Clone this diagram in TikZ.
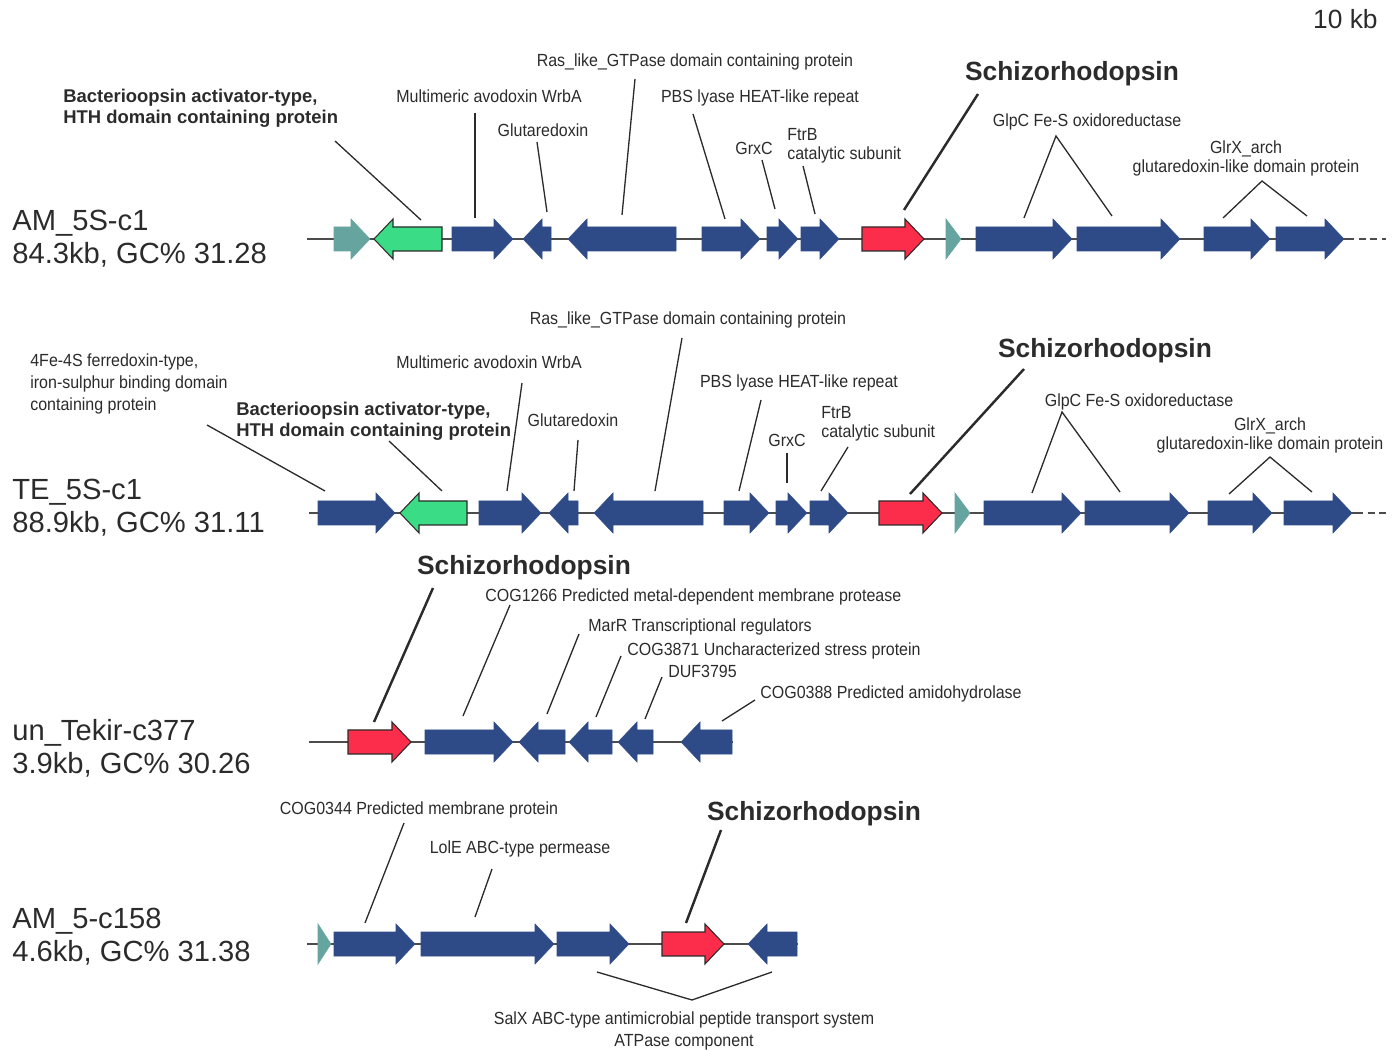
\documentclass[tikz,border=0pt]{standalone}
\usepackage{fontspec}
\setmainfont{Liberation Sans}
\newfontfamily\narrowfont[FakeStretch=0.91]{Liberation Sans}

\definecolor{geneblue}{HTML}{2F4B87}
\definecolor{opsinred}{HTML}{FB2D4B}
\definecolor{hthgreen}{HTML}{3BDC86}
\definecolor{miscteal}{HTML}{66A4A0}
\definecolor{inkgrey}{HTML}{2B2B2B}

\tikzset{
  cds/.style={fill=geneblue, draw=geneblue, line width=0.3pt},
  opsin/.style={fill=opsinred, draw=inkgrey, line width=0.6pt},
  hth/.style={fill=hthgreen, draw=inkgrey, line width=0.6pt},
  misc/.style={fill=miscteal, draw=miscteal, line width=0.3pt},
  backbone/.style={draw=black!70, line width=1.1pt},
  leader/.style={draw=inkgrey, line width=0.75pt},
  opsinleader/.style={draw=inkgrey, line width=1.4pt},
  lbl/.style={inner sep=0pt, text=inkgrey, font=\narrowfont\fontsize{10}{11.5}\selectfont},
  boldlbl/.style={inner sep=0pt, text=inkgrey, font=\bfseries\fontsize{10.5}{11.9}\selectfont},
  opsinlbl/.style={inner sep=0pt, text=inkgrey, font=\bfseries\fontsize{15}{16}\selectfont},
  contig/.style={inner sep=0pt, text=inkgrey, align=left, font=\fontsize{16.6}{18.7}\selectfont}
}

% gene arrow: style, start, tip, y (pixel units)
\newcommand{\gene}[4]{%
  \pgfmathsetmacro{\genehb}{#3-19*sign(#3-#2)}
  \filldraw[#1] (#2,#4-12) -- (\genehb,#4-12) -- (\genehb,#4-20) -- (#3,#4)
    -- (\genehb,#4+20) -- (\genehb,#4+12) -- (#2,#4+12) -- cycle;
}
% head only (very short genes)
\newcommand{\genehead}[4]{%
  \filldraw[#1] (#2,#4-20) -- (#3,#4) -- (#2,#4+20) -- cycle;
}

\begin{document}
\begin{tikzpicture}[x=0.02cm, y=-0.02cm]
  \useasboundingbox (0,0) rectangle (1397,1050);

  \node[inner sep=0pt, text=inkgrey, font=\fontsize{15}{16}\selectfont, anchor=mid east] (scale) at (1378,24) {10 kb};

  % ---------- AM_5S-c1 ----------
  \node[contig, anchor=west] (c1) at (12,239) {AM\_5S-c1\\84.3kb, GC\% 31.28};
  \draw[backbone] (307,239) -- (1347,239);
  \draw[backbone, dash pattern=on 4pt off 2.6pt] (1347,239) -- (1386,239);

  \gene{misc}{334}{370}{239}
  \gene{hth}{442}{374}{239}
  \gene{cds}{452}{513}{239}
  \gene{cds}{551}{523}{239}
  \gene{cds}{676}{568}{239}
  \gene{cds}{702}{760}{239}
  \gene{cds}{767}{798}{239}
  \gene{cds}{801}{839}{239}
  \gene{opsin}{862}{924}{239}
  \genehead{misc}{946}{961}{239}
  \gene{cds}{976}{1072}{239}
  \gene{cds}{1077}{1180}{239}
  \gene{cds}{1204}{1270}{239}
  \gene{cds}{1276}{1344}{239}

  \node[boldlbl, align=left, anchor=north west] (bop1) at (63,89) {Bacterioopsin activator-type,\\HTH domain containing protein};
  \node[lbl, anchor=mid] (wrb1) at (489,98) {Multimeric avodoxin WrbA};
  \node[lbl, anchor=mid] (glu1) at (543,132) {Glutaredoxin};
  \node[lbl, anchor=mid] (ras1) at (695,62) {Ras\_like\_GTPase domain containing protein};
  \node[lbl, anchor=mid] (pbs1) at (760,98) {PBS lyase HEAT-like repeat};
  \node[lbl, anchor=mid] (grx1) at (754,150) {GrxC};
  \node[lbl, align=left, anchor=north west, font=\narrowfont\fontsize{10}{10.8}\selectfont] (ftr1) at (787,128) {FtrB\\catalytic subunit};
  \node[opsinlbl, anchor=mid] (szr1) at (1072,76) {Schizorhodopsin};
  \node[lbl, anchor=mid] (glp1) at (1087,122) {GlpC Fe-S oxidoreductase};
  \node[lbl, align=center, anchor=north, font=\narrowfont\fontsize{10}{11.3}\selectfont] (glr1) at (1246,140) {GlrX\_arch\\glutaredoxin-like domain protein};

  \coordinate (bop1a) at (335,141); \coordinate (bop1b) at (421,220);
  \coordinate (wrb1a) at (475,113); \coordinate (wrb1b) at (475,218);
  \coordinate (glu1a) at (537,142); \coordinate (glu1b) at (547,212);
  \coordinate (ras1a) at (635,79);  \coordinate (ras1b) at (622,215);
  \coordinate (pbs1a) at (693,114); \coordinate (pbs1b) at (725,219);
  \coordinate (grx1a) at (762,160); \coordinate (grx1b) at (775,209);
  \coordinate (ftr1a) at (803,166); \coordinate (ftr1b) at (815,214);
  \coordinate (szr1a) at (978,94);  \coordinate (szr1b) at (904,210);
  \coordinate (glp1a) at (1024,218); \coordinate (glp1t) at (1056,136); \coordinate (glp1b) at (1112,216);
  \coordinate (glr1a) at (1223,218); \coordinate (glr1t) at (1262,181); \coordinate (glr1b) at (1307,216);

  \draw[leader] (bop1a) -- (bop1b);
  \draw[leader] (wrb1a) -- (wrb1b);
  \draw[leader] (glu1a) -- (glu1b);
  \draw[leader] (ras1a) -- (ras1b);
  \draw[leader] (pbs1a) -- (pbs1b);
  \draw[leader] (grx1a) -- (grx1b);
  \draw[leader] (ftr1a) -- (ftr1b);
  \draw[opsinleader] (szr1a) -- (szr1b);
  \draw[leader] (glp1a) -- (glp1t) -- (glp1b);
  \draw[leader] (glr1a) -- (glr1t) -- (glr1b);

  % ---------- TE_5S-c1 ----------
  \node[contig, anchor=west] (c2) at (12,508) {TE\_5S-c1\\88.9kb, GC\% 31.11};
  \draw[backbone] (309,513) -- (1356,513);
  \draw[backbone, dash pattern=on 4pt off 2.6pt] (1356,513) -- (1386,513);

  \gene{cds}{318}{395}{513}
  \gene{hth}{467}{400}{513}
  \gene{cds}{479}{541}{513}
  \gene{cds}{578}{549}{513}
  \gene{cds}{703}{594}{513}
  \gene{cds}{724}{769}{513}
  \gene{cds}{776}{807}{513}
  \gene{cds}{810}{848}{513}
  \gene{opsin}{879}{942}{513}
  \genehead{misc}{955}{970}{513}
  \gene{cds}{984}{1081}{513}
  \gene{cds}{1085}{1189}{513}
  \gene{cds}{1208}{1272}{513}
  \gene{cds}{1284}{1352}{513}

  \node[lbl, align=left, anchor=north west, font=\narrowfont\fontsize{10}{12.5}\selectfont] (fer2) at (30,353) {4Fe-4S ferredoxin-type,\\iron-sulphur binding domain\\containing protein};
  \node[boldlbl, align=left, anchor=north west] (bop2) at (236,402) {Bacterioopsin activator-type,\\HTH domain containing protein};
  \node[lbl, anchor=mid] (wrb2) at (489,364) {Multimeric avodoxin WrbA};
  \node[lbl, anchor=mid] (glu2) at (573,422) {Glutaredoxin};
  \node[lbl, anchor=mid] (ras2) at (688,320) {Ras\_like\_GTPase domain containing protein};
  \node[lbl, anchor=mid] (pbs2) at (799,383) {PBS lyase HEAT-like repeat};
  \node[lbl, anchor=mid] (grx2) at (787,442) {GrxC};
  \node[lbl, align=left, anchor=north west, font=\narrowfont\fontsize{10}{10.8}\selectfont] (ftr2) at (821,406) {FtrB\\catalytic subunit};
  \node[opsinlbl, anchor=mid] (szr2) at (1105,353) {Schizorhodopsin};
  \node[lbl, anchor=mid] (glp2) at (1139,402) {GlpC Fe-S oxidoreductase};
  \node[lbl, align=center, anchor=north, font=\narrowfont\fontsize{10}{11.3}\selectfont] (glr2) at (1270,417) {GlrX\_arch\\glutaredoxin-like domain protein};

  \coordinate (fer2a) at (207,425); \coordinate (fer2b) at (325,491);
  \coordinate (bop2a) at (389,441); \coordinate (bop2b) at (442,491);
  \coordinate (wrb2a) at (522,383); \coordinate (wrb2b) at (507,491);
  \coordinate (glu2a) at (578,440); \coordinate (glu2b) at (574,491);
  \coordinate (ras2a) at (682,338); \coordinate (ras2b) at (655,491);
  \coordinate (pbs2a) at (761,400); \coordinate (pbs2b) at (739,491);
  \coordinate (grx2a) at (787,453); \coordinate (grx2b) at (787,483);
  \coordinate (ftr2a) at (848,447); \coordinate (ftr2b) at (821,491);
  \coordinate (szr2a) at (1024,369); \coordinate (szr2b) at (910,494);
  \coordinate (glp2a) at (1032,493); \coordinate (glp2t) at (1062,412); \coordinate (glp2b) at (1120,492);
  \coordinate (glr2a) at (1229,494); \coordinate (glr2t) at (1270,457); \coordinate (glr2b) at (1312,492);

  \draw[leader] (fer2a) -- (fer2b);
  \draw[leader] (bop2a) -- (bop2b);
  \draw[leader] (wrb2a) -- (wrb2b);
  \draw[leader] (glu2a) -- (glu2b);
  \draw[leader] (ras2a) -- (ras2b);
  \draw[leader] (pbs2a) -- (pbs2b);
  \draw[leader] (grx2a) -- (grx2b);
  \draw[leader] (ftr2a) -- (ftr2b);
  \draw[opsinleader] (szr2a) -- (szr2b);
  \draw[leader] (glp2a) -- (glp2t) -- (glp2b);
  \draw[leader] (glr2a) -- (glr2t) -- (glr2b);

  % ---------- un_Tekir-c377 ----------
  \node[contig, anchor=west] (c3) at (12,748) {un\_Tekir-c377\\3.9kb, GC\% 30.26};
  \draw[backbone] (309,742) -- (733,742);

  \gene{opsin}{348}{411}{742}
  \gene{cds}{425}{513}{742}
  \gene{cds}{565}{519}{742}
  \gene{cds}{612}{569}{742}
  \gene{cds}{653}{618}{742}
  \gene{cds}{732}{681}{742}

  \node[opsinlbl, anchor=mid] (szr3) at (524,570) {Schizorhodopsin};
  \node[lbl, anchor=mid west] (cog1266) at (485,597) {COG1266 Predicted metal-dependent membrane protease};
  \node[lbl, anchor=mid west] (marr) at (588,627) {MarR Transcriptional regulators};
  \node[lbl, anchor=mid west] (cog3871) at (627,651) {COG3871 Uncharacterized stress protein};
  \node[lbl, anchor=mid west] (duf) at (668,673) {DUF3795};
  \node[lbl, anchor=mid west] (cog0388) at (760,694) {COG0388 Predicted amidohydrolase};

  \coordinate (szr3a) at (433,588); \coordinate (szr3b) at (374,722);
  \coordinate (cog1266a) at (510,605); \coordinate (cog1266b) at (463,716);
  \coordinate (marra) at (579,634); \coordinate (marrb) at (547,714);
  \coordinate (cog3871a) at (621,656); \coordinate (cog3871b) at (596,717);
  \coordinate (dufa) at (662,677); \coordinate (dufb) at (645,719);
  \coordinate (cog0388a) at (755,700); \coordinate (cog0388b) at (722,721);

  \draw[opsinleader] (szr3a) -- (szr3b);
  \draw[leader] (cog1266a) -- (cog1266b);
  \draw[leader] (marra) -- (marrb);
  \draw[leader] (cog3871a) -- (cog3871b);
  \draw[leader] (dufa) -- (dufb);
  \draw[leader] (cog0388a) -- (cog0388b);

  % ---------- AM_5-c158 ----------
  \node[contig, anchor=west] (c4) at (12,937) {AM\_5-c158\\4.6kb, GC\% 31.38};
  \draw[backbone] (307,944) -- (798,944);

  \genehead{misc}{318}{331}{944}
  \gene{cds}{334}{415}{944}
  \gene{cds}{421}{554}{944}
  \gene{cds}{557}{629}{944}
  \gene{opsin}{662}{724}{944}
  \gene{cds}{797}{748}{944}

  \node[lbl, anchor=mid] (cog0344) at (419,810) {COG0344 Predicted membrane protein};
  \node[lbl, anchor=mid] (lole) at (520,849) {LolE ABC-type permease};
  \node[opsinlbl, anchor=mid] (szr4) at (814,816) {Schizorhodopsin};
  \node[lbl, align=center, anchor=north, font=\narrowfont\fontsize{10}{12.5}\selectfont] (salx) at (684,1011) {SalX ABC-type antimicrobial peptide transport system\\ATPase component};

  \coordinate (cog0344a) at (404,823); \coordinate (cog0344b) at (365,923);
  \coordinate (lolea) at (492,869); \coordinate (loleb) at (475,917);
  \coordinate (szr4a) at (721,830); \coordinate (szr4b) at (686,923);
  \coordinate (salxa) at (597,972); \coordinate (salxt) at (692,1000); \coordinate (salxb) at (772,972);

  \draw[leader] (cog0344a) -- (cog0344b);
  \draw[leader] (lolea) -- (loleb);
  \draw[opsinleader] (szr4a) -- (szr4b);
  \draw[leader] (salxa) -- (salxt) -- (salxb);
\end{tikzpicture}
\end{document}
